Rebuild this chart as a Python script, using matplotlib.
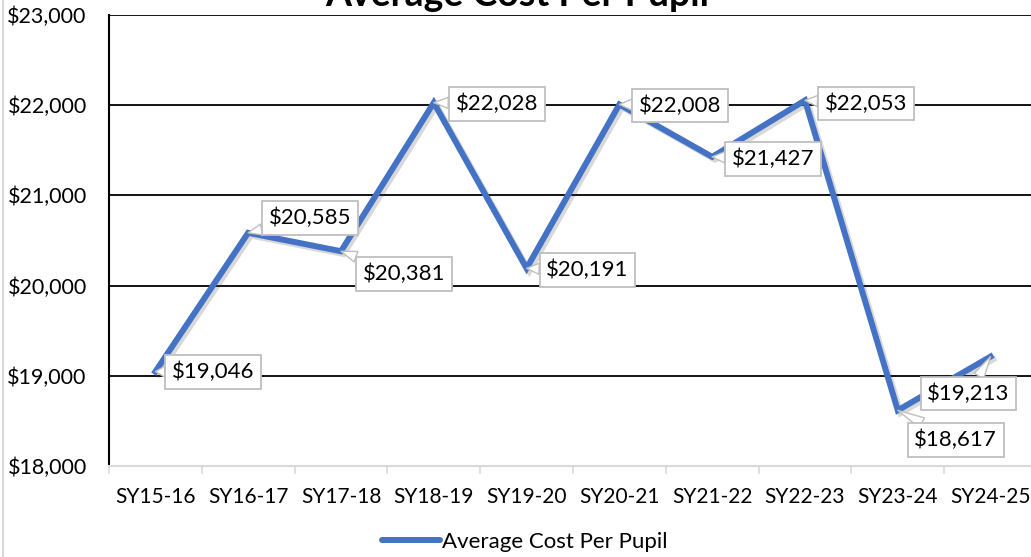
import matplotlib
matplotlib.use("Agg")
import matplotlib.pyplot as plt
import matplotlib.patheffects as pe
from matplotlib.lines import Line2D
from matplotlib.ticker import FuncFormatter, FixedLocator

plt.rcParams["font.family"] = ["Lato", "DejaVu Sans"]

# data
years = ["SY15-16", "SY16-17", "SY17-18", "SY18-19", "SY19-20",
         "SY20-21", "SY21-22", "SY22-23", "SY23-24", "SY24-25"]
cost = [19046, 20585, 20381, 22028, 20191, 22008, 21427, 22053, 18617, 19213]

# label box offsets from each point (pixels)
label_offsets = [(58, 0), (62, 15), (63, -23), (63, -1), (61, -2),
                 (61, -1), (61, -2), (61, -3), (58, -30), (-22, -37)]

blue = "#4472C4"

fig = plt.figure(figsize=(10.31, 5.57), dpi=100)
ax = fig.add_axes([0.1057, 0.1634, 0.9001, 0.8097])

x = list(range(len(years)))
ax.plot(x, cost, color=blue, lw=4.3, solid_joinstyle="miter",
        path_effects=[pe.SimpleLineShadow(offset=(2, -2), alpha=0.2, shadow_color="#404040"),
                      pe.Normal()],
        zorder=3)

for xi, v, (dx, dy) in zip(x, cost, label_offsets):
    ax.annotate(f"${v:,}", xy=(xi, v), xytext=(dx, dy), textcoords="offset pixels",
                ha="center", va="center", fontsize=16, zorder=5,
                bbox=dict(boxstyle="square,pad=0.3", fc="white", ec="#BFBFBF", lw=1.3),
                arrowprops=dict(arrowstyle="wedge,tail_width=0.5", fc="white",
                                ec="#BFBFBF", lw=1.0, shrinkA=0, shrinkB=0))

ax.set_xlim(-0.5, len(years) - 0.5)
ax.set_ylim(18000, 23000)
ax.set_yticks(range(18000, 23001, 1000))
ax.yaxis.set_major_formatter(FuncFormatter(lambda v, p: f"${v:,.0f}"))
ax.grid(axis="y", color="black", lw=1.3, zorder=1)
ax.set_axisbelow(True)

ax.set_xticks(x)
ax.set_xticklabels(years)
ax.xaxis.set_minor_locator(FixedLocator([i - 0.5 for i in range(len(years) + 1)]))
ax.tick_params(axis="x", which="major", length=0, pad=15, labelsize=15)
ax.tick_params(axis="x", which="minor", length=6, color="#D9D9D9", width=1.2)
ax.tick_params(axis="y", length=0, pad=16, labelsize=15.5)

ax.spines["right"].set_visible(False)
ax.spines["top"].set_visible(False)
ax.spines["left"].set_color("black")
ax.spines["left"].set_linewidth(1.5)
ax.spines["bottom"].set_color("#D9D9D9")
ax.spines["bottom"].set_linewidth(1.5)

fig.text(0.502, 1 - 6 / 557, "Average Cost Per Pupil", ha="center", va="baseline",
         fontsize=27, fontweight="bold")

handle = Line2D([], [], color=blue, lw=4.3, solid_capstyle="round")
fig.legend([handle], ["Average Cost Per Pupil"], loc="center", bbox_to_anchor=(0.509, 0.027),
           frameon=False, fontsize=16, handlelength=2.6, handletextpad=0.1)

fig.add_artist(Line2D([0.003, 0.003], [0, 1], color="#D9D9D9", lw=1.5))

fig.savefig("out.png", dpi=100)
